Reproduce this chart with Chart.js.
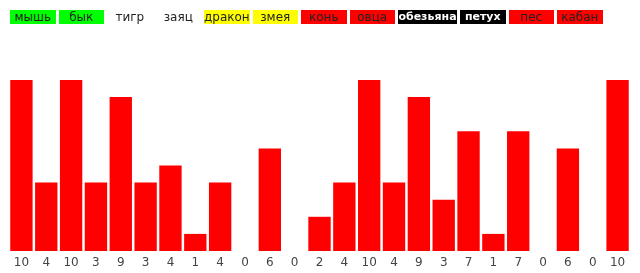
<!DOCTYPE html>
<html>
<head>
<meta charset="utf-8">
<script src="https://cdn.jsdelivr.net/npm/chart.js@4"></script>
<style>
html,body{margin:0;padding:0;background:#fff;}
#wrap{position:relative;width:640px;height:273px;}
#legend{position:absolute;left:10px;top:10px;height:14px;font-family:"DejaVu Sans",sans-serif;font-size:12px;line-height:14px;white-space:nowrap;}
#legend span{display:block;position:absolute;top:0;text-align:center;height:14px;overflow:visible;}
canvas{position:absolute;left:0;top:0;}
</style>
</head>
<body>
<div id="wrap">
<canvas id="c" width="640" height="273"></canvas>
<div id="legend"></div>
</div>
<script>
const legendNames = ["мышь","бык","тигр","заяц","дракон","змея","конь","овца","обезьяна","петух","пес","кабан"];
const legendBg = ["#00ff00","#00ff00","transparent","transparent","#ffff00","#ffff00","#ff0000","#ff0000","#000000","#000000","#ff0000","#ff0000"];
const legendFg = ["#222","#222","#222","#222","#222","#222","#222","#222","#fff","#fff","#222","#222"];

const tickLabels = ["10","4","10","3","9","3","4","1","4","0","6","0","2","4","10","4","9","3","7","1","7","0","6","0","10"];
const values = [10,4,10,4,9,4,5,1,4,0,6,0,2,4,10,4,9,3,7,1,7,0,6,0,10];

const lg = document.getElementById('legend');
let x = 0;
legendNames.forEach((n,i)=>{
  const s=document.createElement('span');
  s.textContent=n;
  s.style.background=legendBg[i];
  s.style.color=legendFg[i];
  const w = (n==="обезьяна") ? 59 : 45.5;
  s.style.left = x+'px';
  s.style.width = w+'px';
  if(legendFg[i]==="#fff"){ s.style.fontWeight="bold"; s.style.fontSize="11px"; }
  x += w + 3;
  lg.appendChild(s);
});

new Chart(document.getElementById('c'),{
  type:'bar',
  data:{labels:tickLabels,datasets:[{data:values,backgroundColor:'#ff0000',borderWidth:0,barPercentage:0.9,categoryPercentage:1}]},
  options:{
    responsive:false,animation:false,
    layout:{padding:{top:80,left:9,right:10,bottom:-2}},
    plugins:{legend:{display:false},tooltip:{enabled:false}},
    scales:{
      x:{grid:{display:false,drawTicks:false},border:{display:false},ticks:{color:'#444',font:{family:'DejaVu Sans',size:12,lineHeight:1},maxRotation:0,autoSkip:false,padding:6}},
      y:{display:false,min:0,max:10}
    }
  }
});
</script>
</body>
</html>
